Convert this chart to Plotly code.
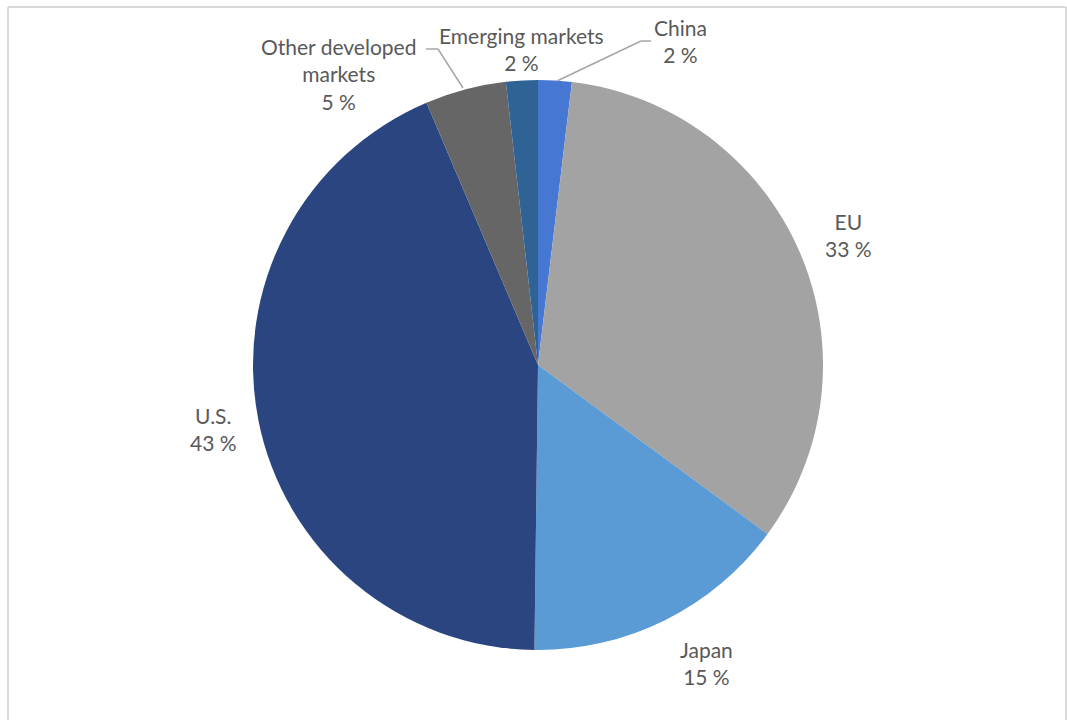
import plotly.graph_objects as go

W, H = 1067, 720

regions = ["China", "EU", "Japan", "U.S.", "Other developed<br>markets", "Emerging markets"]
shares = [1.9, 33.2, 15.1, 43.4, 4.6, 1.8]
colors = ["#4677d2", "#a3a3a3", "#5b9bd5", "#2a4580", "#666666", "#2f6396"]

# pie geometry in pixels
cx, cy, r = 538, 365, 285

fig = go.Figure(go.Pie(
    labels=regions,
    values=shares,
    sort=False,
    direction="clockwise",
    rotation=0,
    textinfo="none",
    hoverinfo="label+value",
    marker=dict(colors=colors, line=dict(width=0)),
    domain=dict(x=[(cx - r) / W, (cx + r) / W], y=[(H - cy - r) / H, (H - cy + r) / H]),
    showlegend=False,
))

# label positions (pixel centers of the label blocks)
label_pos = [(680, 41), (848, 235), (706, 663), (214, 429), (338, 74), (521, 49)]
font = dict(family="Lato, 'Open Sans', sans-serif", size=21, color="#595959")
anns = []
for lab, val, (px, py) in zip(regions, shares, label_pos):
    anns.append(dict(
        x=px / W, y=1 - py / H, xref="paper", yref="paper",
        text=f"{lab}<br>{round(val)} %", showarrow=False, font=font,
        xanchor="center", yanchor="middle", align="center",
    ))

def P(x, y):
    return x / W, 1 - y / H

shapes = []
# leader lines
for pts in ([(557, 81), (641, 41), (651, 41)], [(463, 88), (438, 49), (426, 49)]):
    for (x0, y0), (x1, y1) in zip(pts[:-1], pts[1:]):
        a, b = P(x0, y0)
        c, d = P(x1, y1)
        shapes.append(dict(type="line", xref="paper", yref="paper", x0=a, y0=b, x1=c, y1=d,
                           line=dict(color="#a6a6a6", width=1.5)))
# chart frame (left, top, right)
for (x0, y0), (x1, y1) in [((8, 7), (8, 720)), ((8, 7), (1066, 7)), ((1066, 7), (1066, 720))]:
    a, b = P(x0, y0)
    c, d = P(x1, y1)
    shapes.append(dict(type="line", xref="paper", yref="paper", x0=a, y0=b, x1=c, y1=d,
                       line=dict(color="#d9d9d9", width=2)))

fig.update_layout(
    width=W, height=H,
    margin=dict(l=0, r=0, t=0, b=0),
    paper_bgcolor="white", plot_bgcolor="white",
    annotations=anns, shapes=shapes,
)

fig.write_html("out.html")
